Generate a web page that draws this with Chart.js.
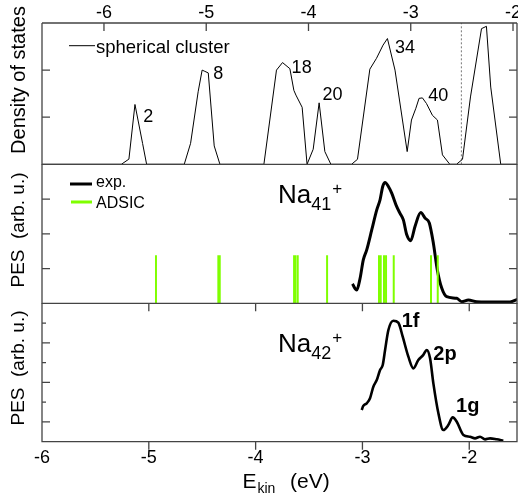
<!DOCTYPE html>
<html>
<head>
<meta charset="utf-8">
<script src="https://cdn.jsdelivr.net/npm/chart.js@4.4.1/dist/chart.umd.min.js"></script>
<style>
  body { margin: 0; background: #fff; }
  #wrap { position: relative; width: 518px; height: 498px; }
  #wrap canvas { position: absolute; left: 0; top: 0; }
</style>
</head>
<body>
<div id="wrap">
  <canvas id="dos" width="518" height="498"></canvas>
  <canvas id="na41" width="518" height="498"></canvas>
  <canvas id="na42" width="518" height="498"></canvas>
</div>
<script>
const FONT = '"Liberation Sans", Arial, sans-serif';
const FRAME = '#444';

// top panel: density of states, spherical cluster (upper energy axis)
const dosEnergy = [-6.61, -5.83, -5.756, -5.697, -5.622, -5.583,
  -5.215, -5.153, -5.079, -5.040, -5.020, -4.980, -4.922, -4.866,
  -4.436, -4.313, -4.254, -4.182, -4.143, -4.123, -4.062, -4.014,
  -3.954, -3.896, -3.840, -3.781,
  -3.579, -3.521, -3.400, -3.335, -3.271, -3.228, -3.154, -3.035,
  -2.993, -2.950, -2.919, -2.886, -2.846, -2.788, -2.739, -2.690, -2.618,
  -2.553, -2.494, -2.416, -2.308, -2.260, -2.218, -2.120, -1.96];
const dosValue = [0, 0, 0.11, 1.27, 0.44, 0,
  0, 0.445, 1.54, 2.0, 1.98, 1.94, 0.39, 0,
  0, 2.0, 2.16, 2.03, 1.57, 1.47, 1.21, 0,
  0.32, 1.305, 0.27, 0,
  0, 0.106, 2.02, 2.25, 2.53, 2.67, 2.0, 0.27,
  0.94, 1.19, 1.40, 1.41, 1.29, 1.04, 0.94, 0.20, 0,
  0, 0.106, 1.43, 2.88, 2.93, 1.64, 0, 0];
const dosShells = ['2', '8', '18', '20', '34', '40'];
const dosShellE = [-5.616, -4.932, -4.165, -3.862, -3.155, -2.830];
const dosShellY = [0.90, 1.82, 1.93, 1.36, 2.36, 1.35];
const fermiEnergy = -2.505;
const topTicks = [-6, -5, -4, -3, -2];

// middle panel: Na41+ experiment and ADSIC levels
const na41Energy = [-3.094, -3.053, -3.022, -2.992, -2.960, -2.913, -2.866, -2.835,
  -2.810, -2.788, -2.757, -2.726, -2.679, -2.648, -2.617, -2.585, -2.548, -2.508,
  -2.454, -2.414, -2.374, -2.336, -2.299, -2.257, -2.211, -2.117, -2.070, -2.008,
  -1.930, -1.712, -1.618, -1.550];
const na41Value = [0.556, 0.383, 0.72, 1.25, 1.536, 2.11, 2.69, 2.98,
  3.36, 3.475, 3.36, 3.17, 2.78, 2.59, 2.40, 1.97, 1.80, 2.21,
  2.61, 2.45, 2.31, 1.73, 0.96, 0.43, 0.19, 0.144, 0.046, 0.095,
  0.046, 0.037, 0.037, 0.115];
const adsicLevels = [-4.933, -4.349, -4.336, -3.640, -3.628, -3.606, -3.331,
  -2.845, -2.829, -2.798, -2.779, -2.707, -2.358, -2.295];
const adsicHeight = 1.38;

// bottom panel: Na42+ experiment
const na42Energy = [-3.007, -2.992, -2.960, -2.929, -2.898, -2.866, -2.835, -2.810,
  -2.788, -2.757, -2.711, -2.664, -2.623, -2.570, -2.523, -2.477, -2.430, -2.398,
  -2.367, -2.336, -2.289, -2.243, -2.196, -2.155, -2.117, -2.055, -1.993, -1.946,
  -1.899, -1.852, -1.805, -1.743, -1.681];
const na42Value = [1.60, 1.81, 1.94, 2.20, 2.78, 3.12, 3.63, 3.88,
  4.64, 5.65, 6.12, 6.02, 5.31, 4.30, 3.71, 4.13, 4.39, 4.64,
  4.22, 2.95, 1.44, 0.59, 0.84, 1.23, 1.01, 0.34, 0.25, 0.17,
  0.25, 0.12, 0.17, 0.12, 0.05];
const na42Peaks = ['1f', '2p', '1g'];
const na42PeakE = [-2.632, -2.336, -2.124];
const na42PeakY = [5.80, 4.13, 1.52];
const bottomTicks = [-6, -5, -4, -3, -2];

const pts = (xs, ys) => xs.map((x, i) => ({ x: x, y: ys[i] }));

function sticks(levels, h) {
  const out = [];
  levels.forEach(e => { out.push({ x: e, y: 0 }, { x: e, y: h }, { x: e, y: null }); });
  return out;
}

function frame(chart, o) {
  const { ctx, chartArea: a, scales: { x, y } } = chart;
  ctx.save();
  ctx.strokeStyle = FRAME;
  ctx.lineWidth = 1.3;
  ctx.beginPath();
  ctx.moveTo(a.left, a.top); ctx.lineTo(a.left, a.bottom);
  ctx.lineTo(a.right, a.bottom); ctx.lineTo(a.right, a.top);
  if (o.topLine) { ctx.moveTo(a.left, a.top); ctx.lineTo(a.right, a.top); }
  (o.yTicks || []).forEach(t => {
    const py = y.getPixelForValue(t[0]);
    ctx.moveTo(a.left, py); ctx.lineTo(a.left + t[1], py);
    ctx.moveTo(a.right, py); ctx.lineTo(a.right - t[1], py);
  });
  (o.xTopTicks || []).forEach(v => {
    const px = x.getPixelForValue(v);
    ctx.moveTo(px, a.top); ctx.lineTo(px, a.top + 8);
  });
  (o.xBottomTicks || []).forEach(v => {
    const px = x.getPixelForValue(v);
    ctx.moveTo(px, a.bottom); ctx.lineTo(px, a.bottom + 8);
  });
  ctx.stroke();
  ctx.restore();
}

function text(ctx, s, px, py, font, align) {
  ctx.font = font;
  ctx.textAlign = align || 'left';
  ctx.textBaseline = 'alphabetic';
  ctx.fillStyle = '#000';
  ctx.fillText(s, px, py);
}

function yTitle(ctx, s, px, py, size) {
  ctx.save();
  ctx.translate(px, py);
  ctx.rotate(-Math.PI / 2);
  ctx.font = size + 'px ' + FONT;
  ctx.textAlign = 'center';
  ctx.textBaseline = 'middle';
  ctx.fillStyle = '#000';
  ctx.fillText(s, 0, 0);
  ctx.restore();
}

function formula(ctx, n, px, py) {
  text(ctx, 'Na', px, py, '26px ' + FONT);
  const w = ctx.measureText('Na').width;
  text(ctx, n, px + w, py + 7, '18px ' + FONT);
  const w2 = ctx.measureText(n).width;
  text(ctx, '+', px + w + w2 + 1, py - 9, '17px ' + FONT);
}

function makeChart(id, pad, xr, yr, datasets, draw) {
  return new Chart(document.getElementById(id), {
    type: 'line',
    data: { datasets: datasets },
    options: {
      responsive: false,
      animation: false,
      devicePixelRatio: 1,
      layout: { padding: pad },
      plugins: { legend: { display: false }, tooltip: { enabled: false } },
      elements: { point: { radius: 0 } },
      scales: {
        x: { type: 'linear', display: false, min: xr[0], max: xr[1] },
        y: { type: 'linear', display: false, min: yr[0], max: yr[1] }
      }
    },
    plugins: [{ id: 'deco', afterDatasetsDraw: draw }]
  });
}

// top panel
makeChart('dos', { left: 42, top: 23, right: 1, bottom: 333.7 }, [-6.606, -1.961], [0, 3], [
  { data: pts(dosEnergy, dosValue), borderColor: '#000', borderWidth: 1, tension: 0 },
  { data: [{ x: fermiEnergy, y: 0 }, { x: fermiEnergy, y: 3 }], borderColor: '#777',
    borderWidth: 1, borderDash: [2, 2] }
], chart => {
  const { ctx, chartArea: a, scales: { x, y } } = chart;
  frame(chart, { topLine: true, yTicks: [[1, 8], [2, 8]], xTopTicks: topTicks });
  topTicks.forEach(v => text(ctx, String(v), x.getPixelForValue(v), 18.3, '18px ' + FONT, 'center'));
  dosShells.forEach((s, i) => text(ctx, s, x.getPixelForValue(dosShellE[i]), y.getPixelForValue(dosShellY[i]), '18px ' + FONT));
  ctx.save();
  ctx.strokeStyle = '#000'; ctx.lineWidth = 1;
  ctx.beginPath(); ctx.moveTo(a.left + 27, 45.7); ctx.lineTo(a.left + 53, 45.7); ctx.stroke();
  ctx.restore();
  text(ctx, 'spherical cluster', a.left + 54, 52.5, '18.5px ' + FONT);
  yTitle(ctx, 'Density of states', 19, 80, 20);
});

// middle panel
makeChart('na41', { left: 42, top: 164.3, right: 1, bottom: 194.7 }, [-6, -1.553], [0, 4], [
  { data: sticks(adsicLevels, adsicHeight), borderColor: '#7fff00', borderWidth: 2,
    borderCapStyle: 'butt', spanGaps: false },
  { data: pts(na41Energy, na41Value), borderColor: '#000', borderWidth: 3,
    cubicInterpolationMode: 'monotone' }
], chart => {
  const { ctx, chartArea: a, scales: { x, y } } = chart;
  frame(chart, { yTicks: [[1, 8], [2, 8], [3, 8]], xBottomTicks: bottomTicks.slice(1) });
  ctx.save();
  ctx.lineWidth = 3; ctx.strokeStyle = '#000';
  ctx.beginPath(); ctx.moveTo(a.left + 28, 184); ctx.lineTo(a.left + 50, 184); ctx.stroke();
  ctx.strokeStyle = '#7fff00';
  ctx.beginPath(); ctx.moveTo(a.left + 29, 202); ctx.lineTo(a.left + 50, 202); ctx.stroke();
  ctx.restore();
  text(ctx, 'exp.', a.left + 54, 186.5, '16px ' + FONT);
  text(ctx, 'ADSIC', a.left + 54, 207.5, '16px ' + FONT);
  formula(ctx, '41', x.getPixelForValue(-3.79), y.getPixelForValue(2.88));
  yTitle(ctx, 'PES  (arb. u.)', 19, 230, 19);
});

// bottom panel
makeChart('na42', { left: 42, top: 303.3, right: 1, bottom: 56.3 }, [-6, -1.553], [0, 7], [
  { data: pts(na42Energy, na42Value), borderColor: '#000', borderWidth: 2.6,
    cubicInterpolationMode: 'monotone' }
], chart => {
  const { ctx, chartArea: a, scales: { x, y } } = chart;
  frame(chart, { yTicks: [[1, 8], [2, 4], [3, 8], [4, 4], [5, 8], [6, 4]], xBottomTicks: bottomTicks.slice(1) });
  bottomTicks.forEach(v => text(ctx, String(v), x.getPixelForValue(v), 463.3, '18px ' + FONT, 'center'));
  na42Peaks.forEach((s, i) => text(ctx, s, x.getPixelForValue(na42PeakE[i]), y.getPixelForValue(na42PeakY[i]), 'bold 20px ' + FONT));
  formula(ctx, '42', x.getPixelForValue(-3.79), y.getPixelForValue(4.55));
  yTitle(ctx, 'PES  (arb. u.)', 19, 368, 19);
  text(ctx, 'E', 242.5, 488.3, '21px ' + FONT);
  text(ctx, 'kin', 257.5, 492.7, '14px ' + FONT);
  text(ctx, '(eV)', 290, 488.3, '21px ' + FONT);
});
</script>
</body>
</html>
